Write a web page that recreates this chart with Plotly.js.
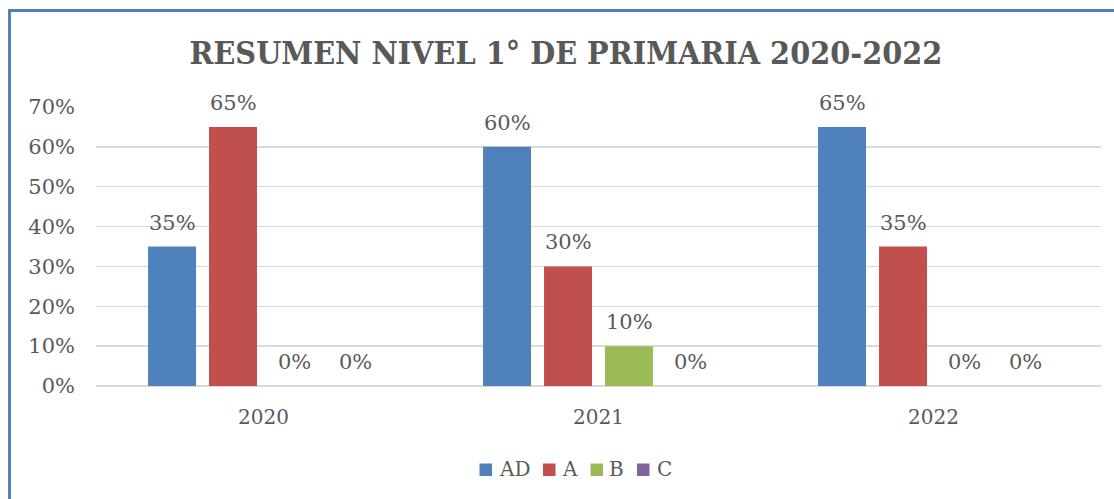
<!DOCTYPE html>
<html><head><meta charset="utf-8">
<script src="https://cdn.plot.ly/plotly-3.0.1.min.js"></script>
<style>
html,body{margin:0;padding:0;background:#fff;overflow:hidden}
#wrap{position:relative;width:1114px;height:499px}
#chart{position:absolute;left:0;top:0;width:1114px;height:499px}
#frame{position:absolute;left:8px;top:9px;width:1200px;height:600px;border-left:3px solid #4F81BD;border-top:3px solid #4F81BD;pointer-events:none}
</style></head>
<body><div id="wrap"><div id="chart"></div><div id="frame"></div></div>
<script>
const years = ['2020', '2021', '2022'];
const seriesNames = ['AD', 'A', 'B', 'C'];
const AD = [0.35, 0.60, 0.65];
const A = [0.65, 0.30, 0.35];
const B = [0.00, 0.10, 0.00];
const C = [0.00, 0.00, 0.00];
const colors = ['#4F81BD', '#C0504D', '#9BBB59', '#8064A2'];
const allValues = [AD, A, B, C];
const yTicks = [0, 0.1, 0.2, 0.3, 0.4, 0.5, 0.6, 0.7];

const fontFam = '"DejaVu Serif", serif';
const txtCol = '#595959';
const M = {l: 96, r: 13, t: 107, b: 113};
const PW = 1114 - M.l - M.r, PH = 499 - M.t - M.b;
const px2x = p => (p - M.l) / PW;
const px2y = p => (499 - M.b - p) / PH;

const traces = allValues.map((vals, i) => ({
  type: 'bar', name: seriesNames[i], x: years, y: vals,
  marker: {color: colors[i]}, hoverinfo: 'none', showlegend: false
}));

const annotations = [];
const slot = 61;
allValues.forEach((vals, i) => {
  vals.forEach((v, j) => {
    annotations.push({x: years[j], y: v, xref: 'x', yref: 'y', xshift: (i - 1.5) * slot, yshift: 24,
      text: Math.round(v * 100) + '%', showarrow: false, xanchor: 'center', yanchor: 'middle',
      font: {family: fontFam, size: 21, color: txtCol}});
  });
});

// manual legend (compact like the original)
const shapes = [];
const legSq = [479.5, 543, 590.5, 637];
const legTx = [497, 560, 607, 655];
seriesNames.forEach((n, i) => {
  shapes.push({type: 'rect', xref: 'paper', yref: 'paper', x0: px2x(legSq[i]), x1: px2x(legSq[i] + 12.5),
    y0: px2y(476), y1: px2y(463.5), fillcolor: colors[i], line: {width: 0}});
  annotations.push({xref: 'paper', yref: 'paper', x: px2x(legTx[i]), y: px2y(469), xanchor: 'left', yanchor: 'middle',
    text: n, showarrow: false, font: {family: fontFam, size: 20, color: txtCol}});
});

const layout = {
  width: 1114, height: 499,
  margin: M,
  paper_bgcolor: '#fff', plot_bgcolor: '#fff',
  title: {text: 'RESUMEN NIVEL 1° DE PRIMARIA 2020-2022', x: 0.508, xanchor: 'center', y: 0.895, yanchor: 'middle',
    font: {family: '"DejaVu Serif Condensed", "Liberation Serif", serif', size: 32, color: txtCol, weight: 'bold'}},
  barmode: 'group', bargap: 0.272, bargroupgap: 0.213,
  xaxis: {tickfont: {family: fontFam, size: 20, color: txtCol}, showline: false, ticks: '', automargin: false, ticklabelstandoff: 17},
  yaxis: {range: [0, 0.7], tickvals: yTicks, tickformat: '.0%', showgrid: true, gridcolor: '#D9D9D9', gridwidth: 1.5,
    zeroline: true, zerolinecolor: '#D9D9D9', zerolinewidth: 1.5, ticks: '', ticklen: 0, ticklabelstandoff: 20,
    tickfont: {family: fontFam, size: 21, color: txtCol}, automargin: false},
  showlegend: false,
  shapes: shapes,
  annotations: annotations
};
Plotly.newPlot('chart', traces, layout, {staticPlot: true});
</script></body></html>
